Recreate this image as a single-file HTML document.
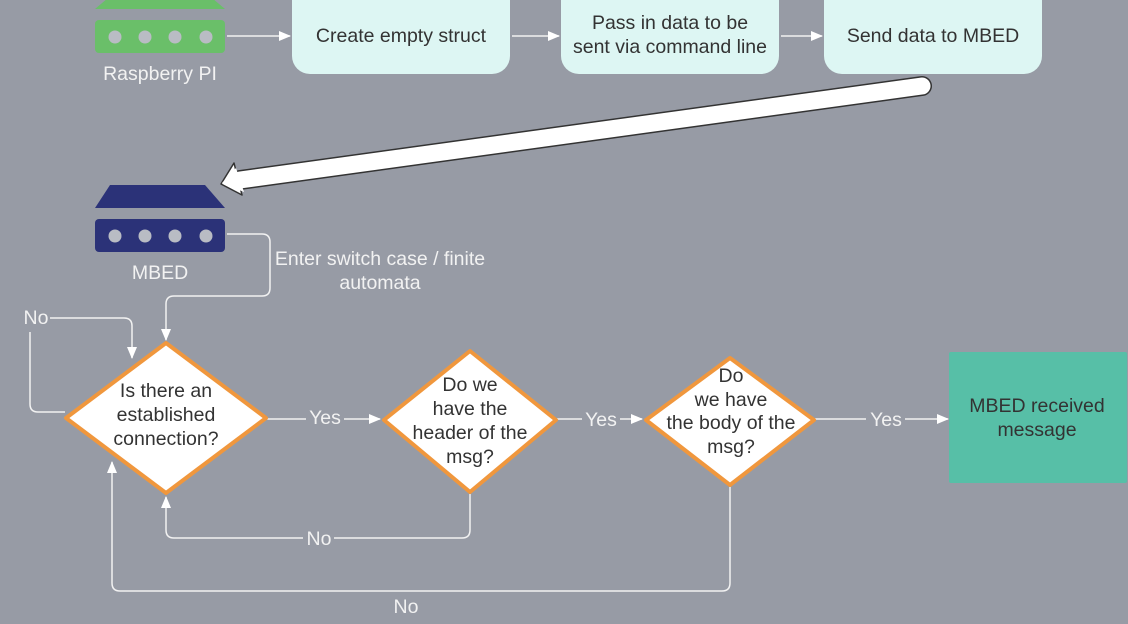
<!DOCTYPE html>
<html><head><meta charset="utf-8"><style>
html,body{margin:0;padding:0;background:#979ba5;}
svg{display:block;}
text{font-family:"Liberation Sans",sans-serif;}
</style></head><body>
<svg width="1128" height="624" viewBox="0 0 1128 624" xmlns="http://www.w3.org/2000/svg">
<defs>
<marker id="ar" markerWidth="12" markerHeight="10" refX="11" refY="5" orient="auto" markerUnits="userSpaceOnUse">
<path d="M0,0 L12,5 L0,10 Z" fill="#fff"/></marker>
</defs>
<rect width="1128" height="624" fill="#979ba5"/>
<path d="M108,-2 L212,-2 L225,9 L95,9 Z" fill="#6abf69"/>
<rect x="95" y="20" width="130" height="33" rx="4" fill="#6abf69"/>
<g fill="#b9bcc4"><circle cx="115" cy="37" r="6.5"/><circle cx="145" cy="37" r="6.5"/><circle cx="175" cy="37" r="6.5"/><circle cx="206" cy="37" r="6.5"/></g>
<text x="160" y="80" font-size="19.5" fill="#f2f2f2" text-anchor="middle">Raspberry PI</text>
<g fill="none" stroke="#f2f2f2" stroke-width="1.5" marker-end="url(#ar)">
<line x1="227" y1="36" x2="290" y2="36"/>
<line x1="512" y1="36" x2="559" y2="36"/>
<line x1="781" y1="36" x2="822" y2="36"/>
</g>
<rect x="292" y="-20" width="218" height="94" rx="18" fill="#ddf6f3"/>
<rect x="561" y="-20" width="218" height="94" rx="18" fill="#ddf6f3"/>
<rect x="824" y="-20" width="218" height="94" rx="18" fill="#ddf6f3"/>
<g font-size="19.5" fill="#333" text-anchor="middle">
<text x="401" y="42">Create empty struct</text>
<text x="670" y="29">Pass in data to be</text>
<text x="670" y="53">sent via command line</text>
<text x="933" y="42">Send data to MBED</text>
</g>
<line x1="922" y1="86" x2="240" y2="180" stroke="#333" stroke-width="20" stroke-linecap="round"/>
<line x1="922" y1="86" x2="240" y2="180" stroke="#fff" stroke-width="17" stroke-linecap="round"/>
<path d="M221,184 L234,163 L242,195 Z" fill="#fff" stroke="#333" stroke-width="1.5" stroke-linejoin="round"/>
<path d="M222,183 L236,168 L244,192 Z" fill="#fff"/>
<path d="M110,185 L205,185 L225,208 L95,208 Z" fill="#2b3278"/>
<rect x="95" y="219" width="130" height="33" rx="4" fill="#2b3278"/>
<g fill="#b9bcc4"><circle cx="115" cy="236" r="6.5"/><circle cx="145" cy="236" r="6.5"/><circle cx="175" cy="236" r="6.5"/><circle cx="206" cy="236" r="6.5"/></g>
<text x="160" y="279" font-size="19.5" fill="#f2f2f2" text-anchor="middle">MBED</text>
<g fill="none" stroke="#f2f2f2" stroke-width="1.5">
<path d="M227,234 L262,234 Q270,234 270,242 L270,288 Q270,296 262,296 L174,296 Q166,296 166,304 L166,340" marker-end="url(#ar)"/>
<path d="M65,412 L38,412 Q30,412 30,404 L30,332"/>
<path d="M50,318 L124,318 Q132,318 132,326 L132,358" marker-end="url(#ar)"/>
<path d="M267,419 L306,419 M344,419 L380,419" marker-end="url(#ar)"/>
<path d="M557,419 L582,419 M620,419 L642,419" marker-end="url(#ar)"/>
<path d="M815,419 L866,419 M905,419 L948,419" marker-end="url(#ar)"/>
<path d="M470,494 L470,530 Q470,538 462,538 L334,538 M303,538 L174,538 Q166,538 166,530 L166,497" marker-end="url(#ar)"/>
<path d="M730,486 L730,583 Q730,591 722,591 L120,591 Q112,591 112,583 L112,462" marker-end="url(#ar)"/>
</g>
<g font-size="19.5" fill="#f2f2f2" text-anchor="middle">
<text x="380" y="265">Enter switch case / finite</text>
<text x="380" y="289">automata</text>
<text x="36" y="324">No</text>
<text x="325" y="424">Yes</text>
<text x="601" y="426">Yes</text>
<text x="886" y="426">Yes</text>
<text x="319" y="545">No</text>
<text x="406" y="613">No</text>
</g>
<g fill="#fff" stroke="#f0973d" stroke-width="4" stroke-linejoin="round">
<path d="M166,343 L266,418 L166,493 L66,418 Z"/>
<path d="M470,351 L556,420 L470,492 L384,420 Z"/>
<path d="M730,358 L814,420 L730,485 L646,420 Z"/>
</g>
<g font-size="19.5" fill="#333" text-anchor="middle">
<text x="166" y="397">Is there an</text>
<text x="166" y="421">established</text>
<text x="166" y="445">connection?</text>
<text x="470" y="391">Do we</text>
<text x="470" y="415">have the</text>
<text x="470" y="439">header of the</text>
<text x="470" y="463">msg?</text>
<text x="731" y="382">Do</text>
<text x="731" y="406">we have</text>
<text x="731" y="429">the body of the</text>
<text x="731" y="453">msg?</text>
</g>
<rect x="949" y="352" width="178" height="131" rx="2" fill="#57bfa7"/>
<g font-size="19.5" fill="#333" text-anchor="middle">
<text x="1037" y="412">MBED received</text>
<text x="1037" y="436">message</text>
</g>
</svg>
</body></html>
